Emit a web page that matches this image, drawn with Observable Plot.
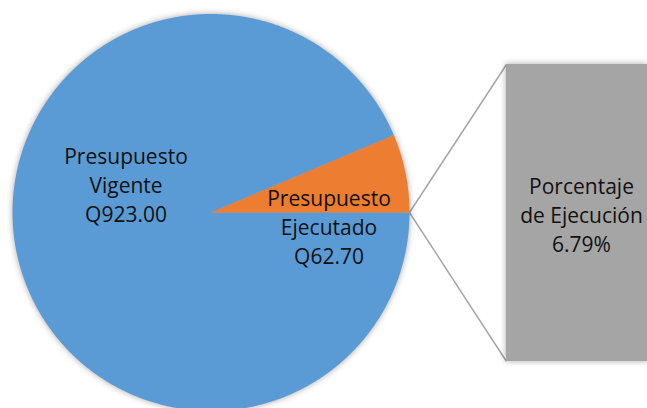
<!DOCTYPE html>
<html><head><meta charset="utf-8">
<script src="https://cdn.jsdelivr.net/npm/d3@7"></script>
<script src="https://cdn.jsdelivr.net/npm/@observablehq/plot@0.6"></script>
<style>
html,body{margin:0;padding:0;background:#fff;overflow:hidden}
svg g[aria-label="line"], svg g[aria-label="rect"]{filter:drop-shadow(0px 0px 3px rgba(0,0,0,0.35))}
</style></head><body><div id="chart"></div>
<script>
// ---- data ----
const categories = ["Presupuesto Vigente", "Presupuesto Ejecutado"];
const values = [923.00, 62.70];
const valueLabels = ["Q923.00", "Q62.70"];
const colors = ["#5B9BD5", "#ED7D31"];
const barCategory = "Porcentaje de Ejecución";
const barValue = 6.79;

// ---- layout ----
const W = 647, H = 408;
const cx = 210.5, cy = 212, r = 198.5;
const bar = {x1: 506, x2: 647, y1: 64, y2: 361};
const labelPos = [{x: 125.5, y: 183.3}, {x: 328.5, y: 225.3}];
const barLabelPos = {x: 581, y: 213.3};

const total = d3.sum(values);
const angSmall = 2 * Math.PI * values[1] / total;
const sliceAngles = [[angSmall, 2 * Math.PI], [0, angSmall]];

const pts = [];
categories.forEach((cat, i) => {
  const [a0, a1] = sliceAngles[i];
  const n = Math.max(4, Math.ceil((a1 - a0) / (Math.PI / 720)));
  pts.push({cat, x: cx, y: cy});
  for (let k = 0; k <= n; k++) {
    const a = a0 + (a1 - a0) * k / n;
    pts.push({cat, x: cx + r * Math.cos(a), y: cy - r * Math.sin(a)});
  }
  pts.push({cat, x: cx, y: cy});
});

const labels = categories.map((c, i) => ({
  text: c.replace(" ", "\n") + "\n" + valueLabels[i],
  x: labelPos[i].x, y: labelPos[i].y
}));
const barLabels = [{
  text: barCategory.replace(" de ", "\nde ") + "\n" + barValue.toFixed(2) + "%",
  x: barLabelPos.x, y: barLabelPos.y
}];
const links = [
  {x1: cx + r * Math.cos(0), y1: cy - r * Math.sin(0), x2: bar.x1, y2: bar.y1},
  {x1: cx + r * Math.cos(0), y1: cy - r * Math.sin(0), x2: bar.x1, y2: bar.y2}
];

const chart = Plot.plot({
  width: W, height: H,
  margin: 0,
  x: {type: "identity", axis: null},
  y: {type: "identity", axis: null},
  color: {domain: categories, range: colors},
  style: {fontFamily: "'Open Sans', sans-serif", background: "#fff"},
  marks: [
    Plot.link(links, {x1: "x1", y1: "y1", x2: "x2", y2: "y2", stroke: "#a6a6a6", strokeWidth: 1.5}),
    Plot.rect([bar], {x1: "x1", x2: "x2", y1: "y1", y2: "y2", fill: "#A5A5A5"}),
    Plot.line(pts, {x: "x", y: "y", z: "cat", fill: "cat", stroke: null, curve: "linear"}),
    Plot.text(labels, {x: "x", y: "y", text: "text", fontSize: 21, lineHeight: 1.38, fill: "#111", textAnchor: "middle"}),
    Plot.text(barLabels, {x: "x", y: "y", text: "text", fontSize: 21, lineHeight: 1.38, fill: "#111", textAnchor: "middle"})
  ]
});
document.getElementById("chart").appendChild(chart);
</script></body></html>
